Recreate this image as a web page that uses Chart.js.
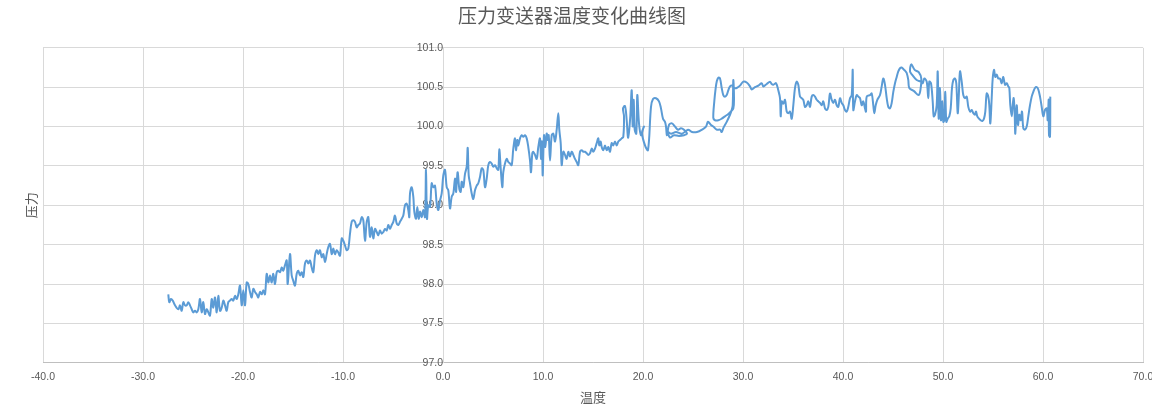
<!DOCTYPE html>
<html lang="zh">
<head>
<meta charset="UTF-8">
<title>压力变送器温度变化曲线图</title>
<script src="https://cdn.jsdelivr.net/npm/chart.js"></script>
<style>
  body { margin: 0; background: #ffffff; }
  #wrap { width: 1152px; height: 416px; }
</style>
</head>
<body>
<div id="wrap"><canvas id="chart"></canvas></div>
<script>
const chartTitle = "压力变送器温度变化曲线图";
const xTitle = "温度";
const yTitle = "压力";
const xTicks = { min: -40, max: 70, step: 10 };
const yTicks = { min: 97, max: 101, step: 0.5 };

// temperature (°C), in recording order
const temperature = [
  // cold start
  -27.47, -27.37, -27.2, -27.03, -26.8, -26.47, -26.3, -26.13, -25.97, -25.8,
  -25.63, -25.47, -25.3, -25.13, -24.97, -24.8, -24.63, -24.47, -24.3, -24.13,
  -23.97, -23.8, -23.63, -23.47, -23.3, -23.13, -22.97, -22.8, -22.63, -22.47,
  -22.3, -22.13, -21.97, -21.8, -21.63, -21.47, -21.3, -21.13, -20.97, -20.8,
  -20.63, -20.47, -20.3, -20.13, -19.97, -19.8, -19.63, -19.47, -19.3, -19.13,
  -18.97, -18.8, -18.63, -18.47, -18.3, -18.13, -17.97, -17.8, -17.63, -17.47,
  -17.3, -17.13, -16.97, -16.8, -16.63, -16.47, -16.3, -16.13, -15.97, -15.8,
  -15.63, -15.53, -15.3, -15.13, -14.97, -14.8, -14.63, -14.47, -14.3, -14.13,
  -13.97, -13.8, -13.63, -13.47, -13.3, -13.13, -12.97, -12.8, -12.63, -12.47,
  -12.3, -12.13, -11.97, -11.8, -11.63, -11.47, -11.3, -11.13, -10.97, -10.8,
  -10.63, -10.47, -10.3,
  // around zero
  -10.13, -9.97, -9.8, -9.63, -9.47, -9.3, -9.13, -8.97, -8.8, -8.63,
  -8.47, -8.3, -8.13, -7.97, -7.8, -7.63, -7.47, -7.3, -7.13, -6.97,
  -6.8, -6.63, -6.47, -6.3, -6.13, -5.97, -5.8, -5.63, -5.47, -5.3,
  -5.13, -4.97, -4.8, -4.63, -4.47, -4.3, -4.13, -3.97, -3.8, -3.63,
  -3.47, -3.37, -3.3, -3.13, -2.97, -2.87, -2.7, -2.57, -2.43, -2.3,
  -2.13, -1.97, -1.8, -1.7, -1.6, -1.47, -1.3, -1.13, -0.97, -0.8,
  -0.63, -0.47, -0.3, -0.13, 0.03, 0.2, 0.37, 0.53, 0.7, 0.87,
  1.03, 1.2, 1.3, 1.37, 1.47, 1.63, 1.77, 1.87, 2.03, 2.2,
  2.37, 2.47, 2.57, 2.7, 2.87, 3.03, 3.2, 3.37, 3.53, 3.7,
  3.87, 4.03, 4.2, 4.37, 4.53, 4.7, 4.87, 5.03, 5.2, 5.37,
  5.53, 5.63, 5.77, 5.93, 6.03, 6.2, 6.37, 6.53, 6.7,
  // 7 - 18
  6.87, 7.03, 7.2, 7.3, 7.43, 7.53, 7.7, 7.87, 8.03, 8.2,
  8.37, 8.53, 8.7, 8.8, 8.93, 9.03, 9.2, 9.37, 9.53, 9.7,
  9.8, 9.9, 9.97, 10.1, 10.23, 10.37, 10.47, 10.57, 10.7, 10.87,
  11.03, 11.2, 11.37, 11.53, 11.63, 11.77, 11.87, 12.03, 12.2, 12.37,
  12.53, 12.7, 12.87, 13.03, 13.2, 13.37, 13.53, 13.7, 13.87, 14.03,
  14.2, 14.37, 14.53, 14.7, 14.87, 15.03, 15.2, 15.37, 15.53, 15.63,
  15.77, 15.87, 16.03, 16.2, 16.37, 16.53, 16.7, 16.87, 17.03, 17.2,
  17.37, 17.53, 17.7,
  // 18 - 27 (back and forth)
  17.87, 18.03, 18.1, 18.0, 18.2, 18.37, 18.5, 18.6, 18.73, 18.87,
  18.97, 19.07, 19.17, 19.33, 19.43, 19.6, 19.8, 20.03, 20.1, 19.9,
  20.2, 20.5, 20.8, 21.0, 21.3, 21.6, 21.8, 22.0, 22.2, 22.3,
  22.4, 22.6, 22.9, 23.2, 23.5, 23.8, 24.1, 24.4, 24.1, 23.6,
  23.1, 22.7, 22.5, 22.8, 23.3, 23.9, 24.5, 24.9, 25.4, 25.9,
  26.3, 26.5, 26.8,
  // 27 - 43
  27.03, 27.37, 27.7, 27.87, 28.03, 28.37, 28.7, 28.87, 28.97, 29.03,
  29.1, 29.03, 28.77, 28.53, 28.2, 27.87, 27.53, 27.2, 27.03, 27.13,
  27.27, 27.37, 27.53, 27.7, 27.87, 28.03, 28.2, 28.37, 28.53, 28.7,
  28.93, 29.13, 29.37, 29.7, 30.03, 30.37, 30.7, 30.87, 31.2, 31.53,
  31.87, 32.03, 32.37, 32.7, 32.87, 33.03, 33.3, 33.53, 33.7, 33.77,
  33.87, 34.03, 34.2, 34.37, 34.53, 34.7, 34.87, 35.03, 35.2, 35.37,
  35.53, 35.7, 35.87, 36.03, 36.2, 36.37, 36.53, 36.7, 36.87, 37.03,
  37.2, 37.37, 37.53, 37.7, 37.87, 38.03, 38.2, 38.37, 38.53, 38.7,
  38.87, 39.03, 39.2, 39.37, 39.53, 39.7, 39.87, 40.03, 40.2, 40.37,
  40.53, 40.7, 40.87, 40.97, 41.03, 41.2, 41.37, 41.53, 41.7, 41.87,
  42.03, 42.2, 42.3, 42.37, 42.7,
  // 43 - 61
  42.87, 43.03, 43.13, 43.27, 43.43, 43.7, 43.87, 44.03, 44.2, 44.37,
  44.53, 44.7, 44.87, 45.03, 45.2, 45.37, 45.53, 45.7, 45.87, 46.03,
  46.2, 46.37, 46.53, 46.63, 47.1, 47.57, 47.77, 47.83, 47.57, 47.17,
  46.83, 46.7, 46.9, 47.37, 47.77, 47.97, 48.13, 48.37, 48.53, 48.63,
  48.8, 48.97, 49.07, 49.2, 49.37, 49.47, 49.57, 49.7, 49.8, 49.93,
  50.03, 50.13, 50.23, 50.33, 50.47, 50.63, 50.77, 50.9, 51.03, 51.2,
  51.33, 51.47, 51.57, 51.7, 51.87, 52.03, 52.2, 52.37, 52.53, 52.7,
  52.87, 53.03, 53.2, 53.3, 53.43, 53.6, 53.77, 53.93, 54.1, 54.23,
  54.37, 54.53, 54.63, 54.73, 54.87, 54.97, 55.1, 55.23, 55.37, 55.53,
  55.7, 55.87, 56.03, 56.2, 56.37, 56.53, 56.63, 56.73, 56.87, 56.97,
  57.07, 57.17, 57.23, 57.37, 57.5, 57.63, 57.77, 57.9, 58.03, 58.2,
  58.37, 58.53, 58.7, 58.87, 59.03, 59.2, 59.37, 59.53, 59.7, 59.87,
  60.03, 60.2, 60.37, 60.47, 60.57, 60.6, 60.7, 60.73
];

// pressure (kPa), same order as temperature
const pressure = [
  // cold start
  97.87, 97.77, 97.81, 97.79, 97.73, 97.68, 97.73, 97.66, 97.77, 97.73,
  97.73, 97.77, 97.73, 97.68, 97.64, 97.66, 97.64, 97.68, 97.81, 97.64,
  97.77, 97.62, 97.68, 97.64, 97.60, 97.81, 97.70, 97.83, 97.64, 97.85,
  97.66, 97.70, 97.79, 97.73, 97.66, 97.77, 97.79, 97.81, 97.79, 97.85,
  97.81, 97.87, 97.98, 97.73, 97.92, 97.73, 98.02, 98.00, 97.90, 97.83,
  97.94, 97.90, 97.87, 97.83, 97.90, 97.87, 97.92, 97.87, 98.13, 98.02,
  98.11, 98.02, 98.13, 98.00, 98.15, 98.17, 98.15, 98.21, 98.17, 98.24,
  98.30, 98.00, 98.38, 98.11, 98.04, 97.98, 98.13, 98.17, 98.11, 98.15,
  98.09, 98.26, 98.30, 98.26, 98.30, 98.21, 98.15, 98.36, 98.43, 98.38,
  98.43, 98.34, 98.38, 98.28, 98.38, 98.47, 98.51, 98.38, 98.45, 98.38,
  98.43, 98.40, 98.36,
  // around zero
  98.58, 98.55, 98.49, 98.43, 98.45, 98.64, 98.79, 98.81, 98.79, 98.72,
  98.75, 98.77, 98.85, 98.81, 98.55, 98.79, 98.85, 98.60, 98.72, 98.58,
  98.70, 98.66, 98.62, 98.68, 98.64, 98.66, 98.70, 98.68, 98.75, 98.70,
  98.75, 98.79, 98.87, 98.77, 98.75, 98.79, 98.83, 98.87, 99.00, 99.02,
  98.94, 98.85, 99.15, 99.23, 99.11, 98.92, 98.83, 98.98, 98.83, 98.92,
  98.85, 98.94, 98.85, 99.45, 98.83, 99.00, 98.98, 99.28, 99.23, 99.25,
  99.02, 98.94, 99.06, 99.15, 99.38, 99.45, 99.23, 99.19, 98.96, 99.11,
  99.15, 99.34, 99.17, 99.28, 99.42, 99.21, 99.17, 99.30, 99.23, 99.40,
  99.49, 99.73, 99.38, 99.28, 99.15, 99.08, 99.19, 99.25, 99.28, 99.36,
  99.47, 99.45, 99.23, 99.34, 99.51, 99.55, 99.53, 99.49, 99.51, 99.47,
  99.45, 99.71, 99.47, 99.23, 99.42, 99.53, 99.59, 99.55, 99.53,
  // 7 - 18
  99.51, 99.72, 99.85, 99.70, 99.83, 99.76, 99.85, 99.89, 99.87, 99.89,
  99.85, 99.74, 99.57, 99.42, 99.66, 99.68, 99.64, 99.59, 99.74, 99.85,
  99.59, 99.81, 99.38, 99.89, 99.74, 99.91, 99.83, 99.89, 99.57, 99.89,
  99.91, 99.81, 99.96, 100.17, 99.96, 99.79, 99.51, 99.68, 99.64, 99.59,
  99.68, 99.62, 99.68, 99.64, 99.59, 99.55, 99.51, 99.68, 99.70, 99.68,
  99.68, 99.66, 99.64, 99.66, 99.72, 99.68, 99.72, 99.79, 99.85, 99.76,
  99.81, 99.74, 99.70, 99.76, 99.70, 99.74, 99.68, 99.79, 99.76, 99.81,
  99.76, 99.81, 99.83,
  // 18 - 27 (back and forth)
  99.85, 99.87, 100.13, 100.23, 100.26, 100.08, 99.86, 99.93, 100.13, 100.46,
  100.00, 100.34, 99.96, 99.91, 100.40, 100.04, 99.89, 99.98, 100.00, 99.92,
  99.76, 99.70, 100.25, 100.35, 100.36, 100.32, 100.23, 100.10, 100.06, 100.00,
  99.89, 100.02, 100.04, 100.00, 99.96, 99.98, 99.96, 99.91, 99.89, 99.88,
  99.89, 99.86, 99.93, 99.91, 99.93, 99.91, 99.96, 99.93, 99.93, 99.96,
  100.00, 100.06, 100.02,
  // 27 - 43
  100.00, 99.96, 99.96, 99.93, 99.98, 100.06, 100.15, 100.21, 100.27, 100.59,
  100.36, 100.23, 100.19, 100.16, 100.13, 100.10, 100.08, 100.08, 100.11, 100.32,
  100.49, 100.57, 100.62, 100.61, 100.49, 100.40, 100.38, 100.40, 100.46, 100.51,
  100.52, 100.49, 100.49, 100.52, 100.57, 100.56, 100.51, 100.47, 100.50, 100.52,
  100.55, 100.51, 100.54, 100.57, 100.54, 100.53, 100.55, 100.46, 100.36, 100.13,
  100.32, 100.29, 100.34, 100.19, 100.17, 100.19, 100.10, 100.27, 100.49, 100.57,
  100.53, 100.38, 100.36, 100.34, 100.25, 100.27, 100.32, 100.25, 100.38, 100.40,
  100.38, 100.34, 100.32, 100.30, 100.27, 100.32, 100.23, 100.21, 100.25, 100.42,
  100.34, 100.30, 100.34, 100.27, 100.25, 100.36, 100.30, 100.27, 100.21, 100.19,
  100.25, 100.36, 100.40, 100.72, 100.21, 100.32, 100.40, 100.38, 100.36, 100.27,
  100.32, 100.23, 100.19, 100.38, 100.40,
  // 43 - 61
  100.42, 100.27, 100.17, 100.27, 100.34, 100.40, 100.51, 100.61, 100.53, 100.36,
  100.25, 100.23, 100.30, 100.44, 100.55, 100.63, 100.70, 100.74, 100.75, 100.73,
  100.71, 100.68, 100.59, 100.49, 100.45, 100.40, 100.49, 100.61, 100.69, 100.72,
  100.79, 100.70, 100.66, 100.59, 100.57, 100.55, 100.61, 100.57, 100.36, 100.57,
  100.55, 100.32, 100.13, 100.15, 100.27, 100.70, 100.10, 100.49, 100.08, 100.32,
  100.06, 100.08, 100.44, 100.06, 100.10, 100.13, 100.23, 100.49, 100.59, 100.61,
  100.55, 100.17, 100.36, 100.70, 100.57, 100.40, 100.36, 100.38, 100.25, 100.19,
  100.21, 100.17, 100.15, 100.19, 100.13, 100.10, 100.08, 100.07, 100.10, 100.19,
  100.42, 100.38, 100.27, 100.04, 100.36, 100.61, 100.72, 100.63, 100.66, 100.61,
  100.61, 100.55, 100.63, 100.53, 100.55, 100.51, 100.49, 100.27, 100.13, 100.27,
  100.36, 100.15, 99.91, 100.27, 100.02, 100.15, 100.08, 100.19, 99.98, 99.96,
  100.00, 100.13, 100.27, 100.38, 100.44, 100.49, 100.50, 100.47, 100.38, 100.25,
  100.13, 100.21, 100.23, 100.08, 100.34, 99.89, 99.87, 100.38
];

if (temperature.length !== pressure.length) {
  console.error("length mismatch", temperature.length, pressure.length);
}

const points = temperature.map((t, i) => ({ x: t, y: pressure[i] }));

const textColor = "#595959";
const gridColor = "#d9d9d9";
const latin = '"Liberation Sans", "Noto Sans", sans-serif';
const cjk = '"Noto Sans CJK SC", "Noto Sans CJK JP", sans-serif';

new Chart(document.getElementById("chart"), {
  type: "scatter",
  data: {
    datasets: [{
      data: points,
      xAxisID: "x",
      yAxisID: "y",
      showLine: true,
      borderColor: "#5b9bd5",
      borderWidth: 2,
      pointRadius: 0,
      tension: 0.35,
      fill: false
    }]
  },
  options: {
    responsive: true,
    maintainAspectRatio: false,
    animation: false,
    layout: { padding: { left: -18, right: -10, top: 0, bottom: 4 } },
    plugins: {
      legend: { display: false },
      tooltip: { enabled: false },
      title: {
        display: true,
        text: chartTitle,
        color: textColor,
        font: { family: cjk, size: 19, weight: "normal" },
        padding: { top: 4, bottom: 21 }
      }
    },
    scales: {
      x: {
        type: "linear",
        min: xTicks.min,
        max: xTicks.max,
        ticks: {
          stepSize: xTicks.step,
          padding: 8,
          color: textColor,
          font: { family: latin, size: 10.5 },
          callback: v => v.toFixed(1)
        },
        grid: { color: gridColor, drawTicks: false },
        border: { color: "#bfbfbf" },
        title: {
          display: true,
          text: xTitle,
          color: textColor,
          font: { family: cjk, size: 13 },
          padding: { top: -2, bottom: 7 }
        },
        // leave only a small gap right of the plot, like the original
        afterFit: axis => { axis.paddingRight = 9; }
      },
      y: {
        type: "linear",
        position: { x: 0 },
        min: yTicks.min,
        max: yTicks.max,
        ticks: {
          stepSize: yTicks.step,
          padding: 6,
          color: textColor,
          font: { family: latin, size: 10.5 },
          callback: v => v.toFixed(1)
        },
        grid: { color: gridColor, drawTicks: false },
        border: { color: gridColor }
      },
      yTitle: {
        type: "linear",
        position: "left",
        ticks: { display: false },
        grid: { display: false, drawTicks: false },
        border: { display: false },
        title: {
          display: true,
          text: yTitle,
          color: textColor,
          font: { family: cjk, size: 13 },
          padding: { top: 41, bottom: 4.4 }
        }
      }
    }
  }
});
</script>
</body>
</html>
